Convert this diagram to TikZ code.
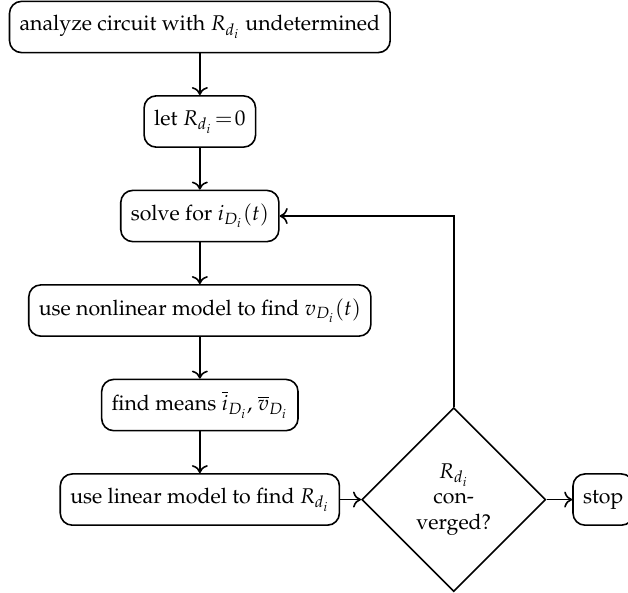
\documentclass[tikz,border=0pt]{standalone}
\usepackage[T1]{fontenc}
\usepackage{mathpazo}
\usetikzlibrary{shapes.geometric, arrows.meta}
\begin{document}
\begin{tikzpicture}[
font=\fontsize{10.65}{12.8}\selectfont,
box/.style={draw, thick, rounded corners=6pt, align=center, minimum height=0.9cm, inner xsep=5pt},
test/.style={draw, thick, diamond, aspect=1, align=center, minimum size=3.23cm, inner sep=0pt},
arrow/.style={-{To[length=4pt,width=8pt]}, thick}
]
\useasboundingbox (-3.51,0.474) rectangle (7.52,-9.94);
\node[box] (analyze) at (0,0) {analyze circuit with $R_{d_i}$ undetermined};
\node[box] (init) at (0,-1.66) {let $R_{d_i}\!=\!0$};
\node[box] (solve) at (0,-3.32) {solve for $i_{D_i}(t)$};
\node[box] (nonlin) at (0,-4.98) {use nonlinear model to find $v_{D_i}(t)$};
\node[box] (means) at (0,-6.64) {find means $\overline{i}_{D_i}$, $\overline{v}_{D_i}$};
\node[box] (linear) at (0,-8.30) {use linear model to find $R_{d_i}$};
\node[test] (check) at (4.46,-8.30) {$R_{d_i}$\\con-\\verged?};
\node[box, anchor=west] (stop) at (6.54,-8.30) {stop};
\draw[arrow] (analyze) -- (init);
\draw[arrow] (init) -- (solve);
\draw[arrow] (solve) -- (nonlin);
\draw[arrow] (nonlin) -- (means);
\draw[arrow] (means) -- (linear);
\draw[arrow] (linear) -- (check);
\draw[arrow] (check) -- (stop);
\draw[arrow] (check.north) |- (solve.east);
\end{tikzpicture}
\end{document}
